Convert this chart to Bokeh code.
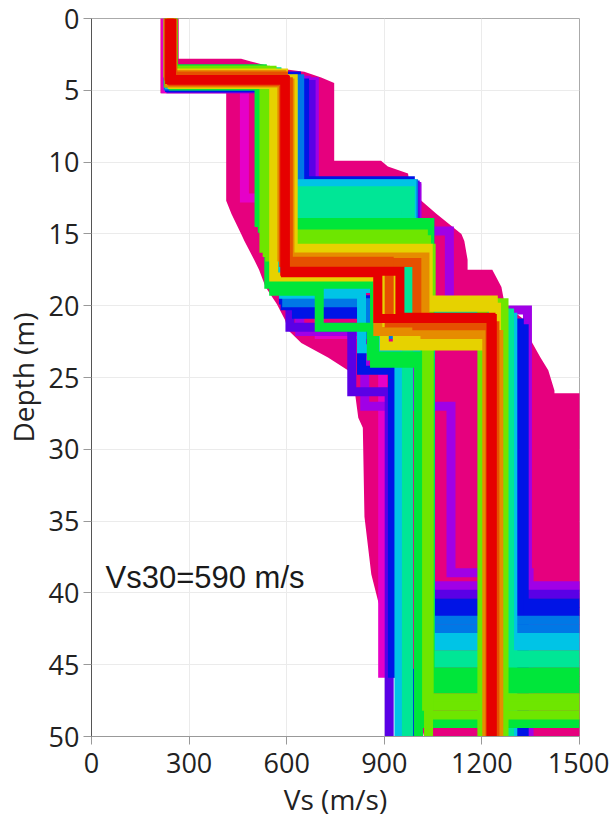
from bokeh.plotting import figure
from bokeh.models import Range1d, FixedTicker, Label
from bokeh.embed import file_html
from bokeh.resources import INLINE

DEPTH_MAX = 50.0

# Envelope of the worst-misfit (magenta) profiles: depth, min Vs, max Vs
env_depth = [0.0, 2.8, 2.8, 3.0, 3.3, 3.5, 3.7, 4.1, 4.5, 5.2, 5.2, 9.9, 9.9, 10.3, 10.8,
             12.4, 12.7, 13.6, 15.0, 15.5, 16.8, 17.5, 17.5, 18.7, 19.9, 21.0, 21.7, 22.6,
             23.6, 24.5, 25.9, 26.1, 26.1, 27.8, 28.5, 34.7, 38.7, 40.5, 43.1, 45.2, 46.6,
             48.7, 50.0]
env_vmin = [212, 212, 212, 212, 212, 212, 212, 212, 212, 212, 414, 414, 414, 414, 414,
            414, 414, 430, 460, 470, 500, 515, 515, 535, 570, 595, 604, 645,
            727, 788, 808, 810, 810, 820, 834, 839, 860, 880, 916, 936, 998,
            1008, 1022]
env_vmax = [268, 268, 460, 490, 543, 583, 654, 706, 746, 746, 746, 746, 890, 911, 973,
            983, 1014, 1060, 1137, 1146, 1156, 1156, 1232, 1260, 1270, 1331, 1340, 1355,
            1380, 1404, 1423, 1423, 1600, 1600, 1600, 1600, 1600, 1600, 1600, 1600, 1600,
            1600, 1600]
env_color = "#e6007e"

# Misfit classes, best (0) to worst (12)
palette = ["#e60000", "#e65000", "#e68c00", "#e6d200", "#6ee600", "#00e63a", "#00e696",
           "#00c4e6", "#0078e6", "#0014e6", "#5a00e6", "#a000e6", "#e600c8"]

# Layered Vs profiles: layer velocities (m/s), layer bottom depths (m), misfit class
profile_vs = [
    [228, 470, 700, 895, 1005],
    [236, 685, 1000, 1100, 1340],
    [240, 660, 1000, 1105, 1345],
    [242, 640, 840, 1040, 1600],
    [238, 675, 995, 1040, 1600],
    [244, 610, 800, 915],
    [248, 655, 980, 1330],
    [240, 595, 830, 925, 1000],
    [246, 630, 860, 1040, 1600],
    [244, 590, 940, 1040, 1600],
    [244, 600, 900, 1315],
    [244, 640, 990, 1040, 1600],
    [236, 600, 850, 1040, 1600],
    [246, 575, 965, 1040, 1600],
    [240, 620, 985, 1295],
    [250, 590, 830, 1040, 1600],
    [236, 565, 880, 945],
    [242, 570, 975, 1040, 1600],
    [248, 580, 970, 1040, 1600],
    [238, 560, 980, 1285],
    [244, 555, 968],
    [240, 585, 975],
    [246, 545, 870, 1040, 1600],
    [240, 525, 1035, 1600],
    [244, 515, 1040, 1600],
    [236, 560, 700, 860, 1005],
    [252, 550, 1025, 1600],
    [248, 535, 1010, 1200],
    [245, 540, 1038, 1600],
    [238, 555, 1030, 1600],
    [250, 552, 1036, 1600],
    [250, 530, 1044, 1268],
    [242, 565, 1020, 1203],
    [246, 548, 1036],
    [245, 575, 1035, 1235],
    [235, 590, 1010, 1245],
    [248, 560, 900, 1230],
    [240, 620, 940, 1220],
    [242, 585, 1025, 1252],
    [238, 610, 880, 1215],
    [236, 590, 1000, 1240],
    [250, 605, 915, 1225],
    [246, 596, 880, 1232],
    [240, 594, 948, 1228],
]
profile_bottoms = [
    [4.9, 12.5, 22.0, 45.6],
    [4.4, 11.8, 14.8, 20.3],
    [4.3, 11.7, 27.0, 38.6],
    [4.6, 21.8, 27.0, 39.5],
    [4.6, 11.6, 14.2, 40.1],
    [4.9, 21.5, 26.0],
    [4.5, 11.3, 21.6],
    [4.8, 20.0, 24.5, 45.6],
    [4.0, 20.6, 23.2, 40.7],
    [4.3, 19.6, 21.4, 41.3],
    [4.3, 19.6, 21.2],
    [4.2, 11.5, 21.0, 41.9],
    [4.7, 19.8, 22.0, 42.5],
    [3.9, 11.6, 22.5, 43.1],
    [4.6, 11.5, 20.8],
    [4.3, 19.2, 23.0, 43.7],
    [4.5, 18.8, 23.8],
    [3.7, 12.6, 20.0, 44.3],
    [4.4, 13.5, 20.0, 44.9],
    [4.0, 12.0, 20.5],
    [4.2, 13.0],
    [4.5, 14.0],
    [3.8, 18.5, 24.0, 45.5],
    [3.5, 14.6, 46.1],
    [4.0, 14.2, 46.7],
    [4.5, 19.0, 21.5, 23.5],
    [4.7, 15.6, 49.1],
    [3.6, 15.2, 20.0],
    [3.7, 16.3, 47.3],
    [3.6, 15.4, 47.9],
    [4.2, 16.1, 48.5],
    [4.6, 16.0, 19.8],
    [3.9, 15.0, 20.0],
    [4.1, 16.6],
    [4.0, 16.0, 19.6],
    [3.8, 16.4, 20.1],
    [4.6, 18.0, 22.8],
    [4.2, 17.0, 22.3],
    [3.9, 16.6, 22.0],
    [4.5, 17.2, 21.8],
    [4.0, 17.0, 21.4],
    [4.4, 16.9, 21.2],
    [4.3, 17.7, 20.9],
    [4.25, 17.6, 20.8],
]
profile_misfit_class = [12, 11, 11, 11, 10, 10, 9, 9, 9, 9, 9, 8, 8, 7, 7, 7, 7, 6, 6, 6,
                        6, 6, 5, 5, 5, 5, 5, 4, 4, 4, 4, 4, 4, 4, 3, 3, 3, 3, 2, 2, 1, 1,
                        0, 0]

x_ticks = [0, 300, 600, 900, 1200, 1500]
y_ticks = [0, 5, 10, 15, 20, 25, 30, 35, 40, 45, 50]
vs30_text = "Vs30=590 m/s"
vs30_pos = (43, 38.9)


def step_xy(vs, bottoms):
    xs, ys = [], []
    top = 0.0
    for v, b in zip(vs, list(bottoms) + [DEPTH_MAX]):
        xs += [v, v]
        ys += [top, b]
        top = b
    return xs, ys


p = figure(frame_width=488, frame_height=718,
           x_range=Range1d(0, 1500), y_range=Range1d(DEPTH_MAX, 0),
           output_backend="svg", toolbar_location=None,
           min_border_left=82, min_border_top=18, min_border_right=30, min_border_bottom=80)

p.harea(y=env_depth, x1=env_vmin, x2=env_vmax, fill_color=env_color, fill_alpha=1.0)

order = sorted(range(len(profile_vs)), key=lambda i: -profile_misfit_class[i])
for i in order:
    xs, ys = step_xy(profile_vs[i], profile_bottoms[i])
    p.line(xs, ys, line_color=palette[profile_misfit_class[i]], line_width=9,
           line_join="miter", line_cap="butt")

p.add_layout(Label(x=vs30_pos[0], y=vs30_pos[1], text=vs30_text,
                   text_font="Liberation Sans", text_font_size="31px",
                   text_color="#1a1a1a", text_baseline="alphabetic"))

p.xaxis.ticker = FixedTicker(ticks=x_ticks)
p.yaxis.ticker = FixedTicker(ticks=y_ticks)
p.xaxis.axis_label = "Vs (m/s)"
p.yaxis.axis_label = "Depth (m)"
for ax in (p.xaxis, p.yaxis):
    ax.axis_label_text_font = "Open Sans"
    ax.axis_label_text_font_size = "28px"
    ax.axis_label_text_font_style = "normal"
    ax.axis_label_text_color = "#222222"
    ax.major_label_text_font = "Open Sans"
    ax.major_label_text_font_size = "27px"
    ax.major_label_text_color = "#222222"
    ax.major_tick_out = 8
    ax.major_tick_in = 0
    ax.minor_tick_line_color = None
    ax.major_label_standoff = 4
    ax.axis_label_standoff = 4
p.xaxis.major_label_standoff = 8
p.yaxis.axis_line_color = "#555555"
p.yaxis.major_tick_line_color = "#999999"
p.xaxis.axis_line_color = "#999999"
p.xaxis.major_tick_line_color = "#999999"

p.xgrid.grid_line_color = "#ebebeb"
p.ygrid.grid_line_color = "#ebebeb"
p.outline_line_color = "#aaaaaa"
p.background_fill_color = "white"
p.border_fill_color = "white"

open("out.html", "w").write(file_html(p, INLINE))
